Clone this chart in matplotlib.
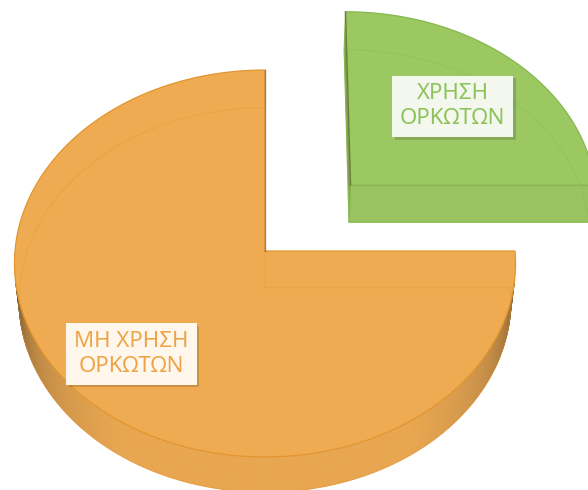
import numpy as np
import matplotlib
matplotlib.use('Agg')
import matplotlib.pyplot as plt
from matplotlib.patches import Polygon
from matplotlib.colors import to_rgb
import matplotlib.patheffects as pe

# ---- data ----
labels = ['ΧΡΗΣΗ\nΟΡΚΩΤΩΝ', 'ΜΗ ΧΡΗΣΗ\nΟΡΚΩΤΩΝ']
values = [25, 75]
colors = ['#9CC862', '#EFAB52']
edge_colors = ['#86B84E', '#E3952F']
text_colors = ['#8DC35A', '#EEA548']
box_colors = ['#F3F7EE', '#FFF6EC']
explode = [0.495, 0.0]
label_r = [0.62, 0.73]

W, H = 588, 490
fig = plt.figure(figsize=(W / 100, H / 100), dpi=100)
ax = fig.add_axes([0, 0, 1, 1])
ax.set_xlim(0, W)
ax.set_ylim(H, 0)
ax.axis('off')

# ---- simple perspective camera ----
elev = np.deg2rad(50.4)
se, ce = np.sin(elev), np.cos(elev)
Dist = 9.88
F = 2470.0
cx, cy = 265.0, 251.0
thick = 0.235
cam = np.array([0.0, Dist * ce, Dist * se])


def proj(u, v, h):
    Z = Dist - v * ce - h * se
    return cx + F * u / Z, cy + F * (v * se - h * ce) / Z


def disk(theta):
    # theta measured clockwise from 12 o'clock
    return np.sin(theta), -np.cos(theta)


def visible(normal, P):
    return np.dot(normal, cam - P) > 0


def shade(col, f):
    c = np.array(to_rgb(col))
    dark = np.array([0.22, 0.18, 0.12])
    return tuple(np.clip(dark + (c - dark) * f, 0, 1))


total = float(sum(values))
start = 0.0
slices = []
for i, v in enumerate(values):
    a0 = start
    a1 = start + 2 * np.pi * v / total
    start = a1
    mid = (a0 + a1) / 2
    du, dv = disk(mid)
    ox, oy = du * explode[i], dv * explode[i]
    slices.append((a0, a1, ox, oy))

order = [0, 1]
for i in order:
    a0, a1, ox, oy = slices[i]
    col = colors[i]
    th = np.linspace(a0, a1, 400)
    us, vs = disk(th)
    us = us + ox
    vs = vs + oy
    # curved side
    for k in range(len(th) - 1):
        tm = 0.5 * (th[k] + th[k + 1])
        n = np.array([np.sin(tm), -np.cos(tm), 0.0])
        P = np.array([0.5 * (us[k] + us[k + 1]), 0.5 * (vs[k] + vs[k + 1]), -thick / 2])
        d = cam - P
        facing = np.dot(n, d) / np.linalg.norm(d)
        if facing <= 0:
            continue
        f = 0.30 + 0.66 * (min(facing / 0.45, 1.0)) ** 0.5
        f = min(f, 0.96)
        xs, ys = [], []
        for (uu, vv, hh) in [(us[k], vs[k], 0), (us[k + 1], vs[k + 1], 0),
                             (us[k + 1], vs[k + 1], -thick), (us[k], vs[k], -thick)]:
            x, y = proj(uu, vv, hh)
            xs.append(x)
            ys.append(y)
        ax.add_patch(Polygon(np.c_[xs, ys], closed=True, fc=shade(col, f),
                             ec=shade(col, f), lw=0.6, zorder=2))
    # radial faces
    for ang, sign in [(a0, -1), (a1, 1)]:
        n = sign * np.array([np.cos(ang), np.sin(ang), 0.0])
        ru, rv = disk(ang)
        P = np.array([ox + 0.5 * ru, oy + 0.5 * rv, -thick / 2])
        if visible(n, P):
            d = cam - P
            facing = np.dot(n, d) / np.linalg.norm(d)
            f = 0.55 + 0.42 * min(facing / 0.6, 1.0) ** 0.3
            pts = [proj(ox, oy, 0), proj(ox + ru, oy + rv, 0),
                   proj(ox + ru, oy + rv, -thick), proj(ox, oy, -thick)]
            ax.add_patch(Polygon(pts, closed=True, fc=shade(col, f), ec=edge_colors[i],
                                 lw=0.8, zorder=3))
    # top face
    top = [proj(ox, oy, 0)] + [proj(uu, vv, 0) for uu, vv in zip(us, vs)]
    ax.add_patch(Polygon(top, closed=True, fc=col, ec=edge_colors[i], lw=0.9, zorder=4))
    # dark radial edge line at 12 o'clock
    ru, rv = disk(a1 if i == 1 else a0)
    p0 = proj(ox, oy, 0)
    p1 = proj(ox + ru, oy + rv, 0)
    ax.plot([p0[0], p1[0]], [p0[1], p1[1]], color='#5a4a30', lw=1.0, alpha=0.55, zorder=5)
    # faint hidden bottom outline
    bot = [proj(ox, oy, -thick)] + [proj(uu, vv, -thick) for uu, vv in zip(us, vs)]
    bot.append(bot[0])
    bx, by = zip(*bot)
    ax.plot(bx, by, color=edge_colors[i], lw=0.8, alpha=0.35, zorder=5)

# ---- labels ----
for i in order:
    a0, a1, ox, oy = slices[i]
    mid = (a0 + a1) / 2
    du, dv = disk(mid)
    x, y = proj(ox + du * label_r[i], oy + dv * label_r[i], 0)
    t = ax.text(x, y, labels[i], ha='center', va='center', fontsize=16,
                family='Noto Sans', color=text_colors[i], linespacing=1.25, zorder=10,
                bbox=dict(boxstyle='square,pad=0.35', fc=box_colors[i], ec='none'))
    t.get_bbox_patch().set_path_effects([
        pe.SimplePatchShadow(offset=(2, -2), shadow_rgbFace='#000000', alpha=0.15),
        pe.Normal()])

fig.savefig('out.png', dpi=100)
